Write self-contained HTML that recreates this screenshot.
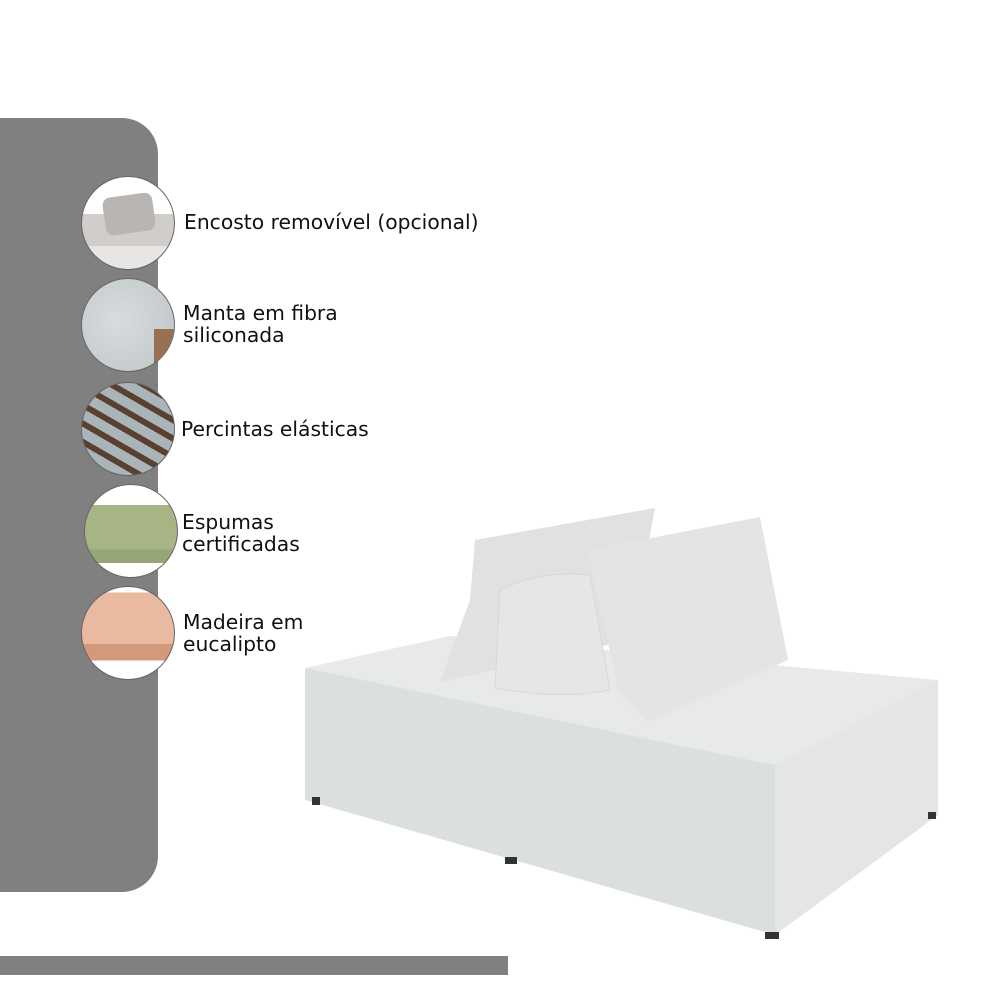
<!DOCTYPE html>
<html><head><style>
body{margin:0;width:1000px;height:1000px;background:#fff;position:relative;overflow:hidden;font-family:"DejaVu Sans","Liberation Sans",sans-serif}
.panel{position:absolute;left:0;top:118px;width:158px;height:774px;background:#808080;border-radius:0 36px 36px 0}
.c{position:absolute;width:92px;height:92px;border-radius:50%;border:1px solid #666;overflow:hidden;background:#ddd}
.t{position:absolute;font-size:20.3px;line-height:22px;color:#111}
.bar{position:absolute;left:0;top:956px;width:508px;height:19px;background:#808080}
</style></head><body>
<div class="panel"></div>
<div class="c" style="left:81px;top:176px;background:linear-gradient(180deg,#fff 0 40%,#d0cdcb 40% 75%,#e8e6e4 75%)"><div style="position:absolute;left:22px;top:18px;width:50px;height:38px;background:#b9b5b2;border-radius:8px;transform:rotate(-8deg)"></div></div>
<div class="c" style="left:81px;top:278px;background:radial-gradient(circle at 40% 45%,#d8dcde,#bfc4c6);"><div style="position:absolute;right:0;top:50px;width:20px;height:40px;background:#9a7052"></div></div>
<div class="c" style="left:81px;top:382px;background:repeating-linear-gradient(30deg,#a9b5b8 0 10px,#5a4030 10px 16px),#a9b5b8"></div>
<div class="c" style="left:84px;top:484px;background:linear-gradient(180deg,#fff 0 22%,#a7b585 22% 70%,#96a674 70% 85%,#fff 85%)"></div>
<div class="c" style="left:81px;top:586px;background:linear-gradient(180deg,#fff 0 6%,#e9b9a0 6% 62%,#d29a7a 62% 80%,#fff 80%)"></div>
<div class="t" style="left:184px;top:211px">Encosto removível (opcional)</div>
<div class="t" style="left:183px;top:302px">Manta em fibra<br>siliconada</div>
<div class="t" style="left:181px;top:418px">Percintas elásticas</div>
<div class="t" style="left:182px;top:511px">Espumas<br>certificadas</div>
<div class="t" style="left:183px;top:611px">Madeira em<br>eucalipto</div>
<div class="bar"></div>
<svg style="position:absolute;left:0;top:0" width="1000" height="1000">
<polygon points="305,668 450,636 938,680 775,765" fill="#e7e9ea"/>
<polygon points="305,668 775,765 775,935 305,800" fill="#dcdfe0"/>
<polygon points="775,765 938,680 938,815 775,935" fill="#e3e5e6"/>
<rect x="312" y="797" width="8" height="8" fill="#333"/>
<rect x="505" y="857" width="12" height="7" fill="#333"/>
<rect x="765" y="932" width="14" height="7" fill="#333"/>
<rect x="928" y="812" width="8" height="7" fill="#333"/>
<polygon points="475,540 655,508 630,640 440,682 470,600" fill="#dfe1e2"/>
<path d="M500,590 Q540,570 590,575 L610,690 Q560,700 495,688 Z" fill="#e4e6e7" stroke="#d6d8d9"/>
<polygon points="588,550 760,517 788,660 648,722 618,690" fill="#e2e4e5"/>
</svg>
</body></html>
